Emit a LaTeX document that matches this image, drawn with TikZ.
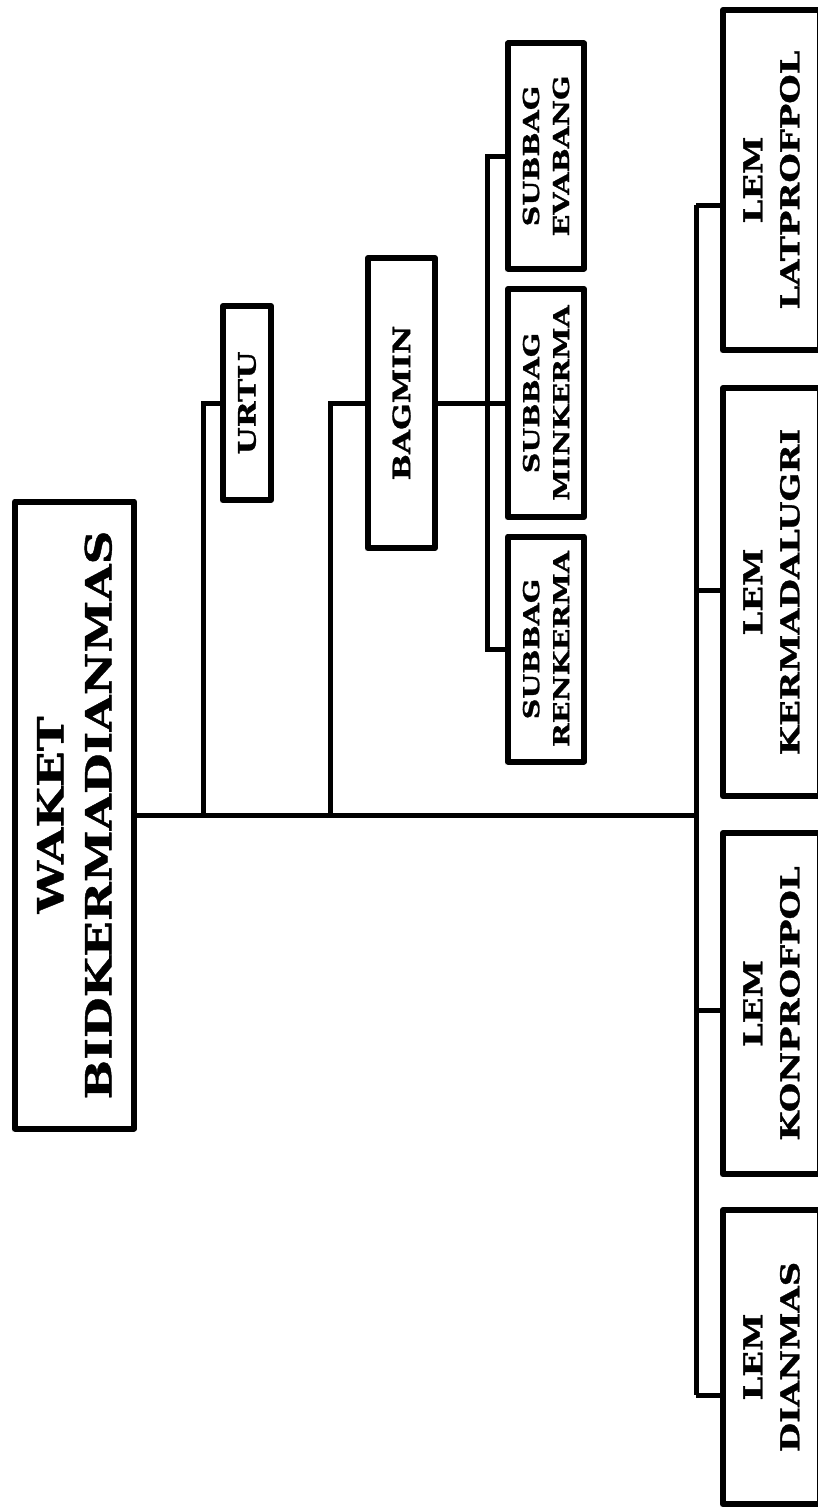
\documentclass[tikz,border=0pt]{standalone}
\usepackage{fontspec}
\newfontfamily\orgfont{DejaVu Serif}[BoldFeatures={FakeStretch=1.3,FakeBold=1.2}]
\usetikzlibrary{shadows}

\begin{document}
\begin{tikzpicture}[x=1pt,y=-1pt,
  box/.style={draw,line width=6pt,line join=round,fill=white,rotate=90,align=center,inner sep=0pt,
    drop shadow={shadow xshift=-3pt,shadow yshift=-3pt,opacity=0.2}},
  link/.style={line width=5pt}]
  \useasboundingbox (0,0) rectangle (817,1509);
  % pimpinan
  \node[box,minimum width=627pt,minimum height=119pt,font=\orgfont\bfseries\fontsize{36}{48}\selectfont] (waket) at (74.5,815) {WAKET\\BIDKERMADIANMAS};
  % staf
  \node[box,minimum width=194pt,minimum height=48pt,font=\orgfont\bfseries\fontsize{24}{30}\selectfont] (urtu) at (247,403) {URTU};
  \node[box,minimum width=290pt,minimum height=67pt,font=\orgfont\bfseries\fontsize{24}{30}\selectfont] (bagmin) at (401.5,403) {BAGMIN};
  \node[box,minimum width=225pt,minimum height=76pt,font=\orgfont\bfseries\fontsize{22}{30}\selectfont] (evabang) at (546,156) {SUBBAG\\EVABANG};
  \node[box,minimum width=228pt,minimum height=76pt,font=\orgfont\bfseries\fontsize{22}{30}\selectfont] (minkerma) at (546,403) {SUBBAG\\MINKERMA};
  \node[box,minimum width=225pt,minimum height=76pt,font=\orgfont\bfseries\fontsize{22}{30}\selectfont] (renkerma) at (546,649) {SUBBAG\\RENKERMA};
  % lembaga
  \node[box,minimum width=340pt,minimum height=97pt,font=\orgfont\bfseries\fontsize{26}{37}\selectfont] (latprofpol) at (771.5,180) {LEM\\LATPROFPOL};
  \node[box,minimum width=408pt,minimum height=97pt,font=\orgfont\bfseries\fontsize{26}{37}\selectfont] (kermadalugri) at (771.5,592) {LEM\\KERMADALUGRI};
  \node[box,minimum width=341pt,minimum height=97pt,font=\orgfont\bfseries\fontsize{26}{37}\selectfont] (konprofpol) at (771.5,1003.5) {LEM\\KONPROFPOL};
  \node[box,minimum width=294pt,minimum height=97pt,font=\orgfont\bfseries\fontsize{26}{37}\selectfont] (dianmas) at (771.5,1357) {LEM\\DIANMAS};

  \coordinate (jurtu) at (203,815);
  \coordinate (jbag) at (330,815);
  \coordinate (jlem) at (696,815);
  \coordinate (l1) at (696,205); \coordinate (l2) at (696,590);
  \coordinate (l3) at (696,1010); \coordinate (l4) at (696,1395);

  \draw[link] (waket.south) -- (jlem);
  \draw[link] (jurtu) |- (urtu.north);
  \draw[link] (jbag) |- (bagmin.north);
  \draw[link] (bagmin.south) -- (minkerma.north);
  \draw[link] (evabang.north) -- ++(-18,0) |- (renkerma.north);
  \draw[link] (l1) -- (l4);
  \draw[link] (l1) -- (l1 -| latprofpol.north);
  \draw[link] (l2) -- (l2 -| kermadalugri.north);
  \draw[link] (l3) -- (l3 -| konprofpol.north);
  \draw[link] (l4) -- (l4 -| dianmas.north);
\end{tikzpicture}
\end{document}
